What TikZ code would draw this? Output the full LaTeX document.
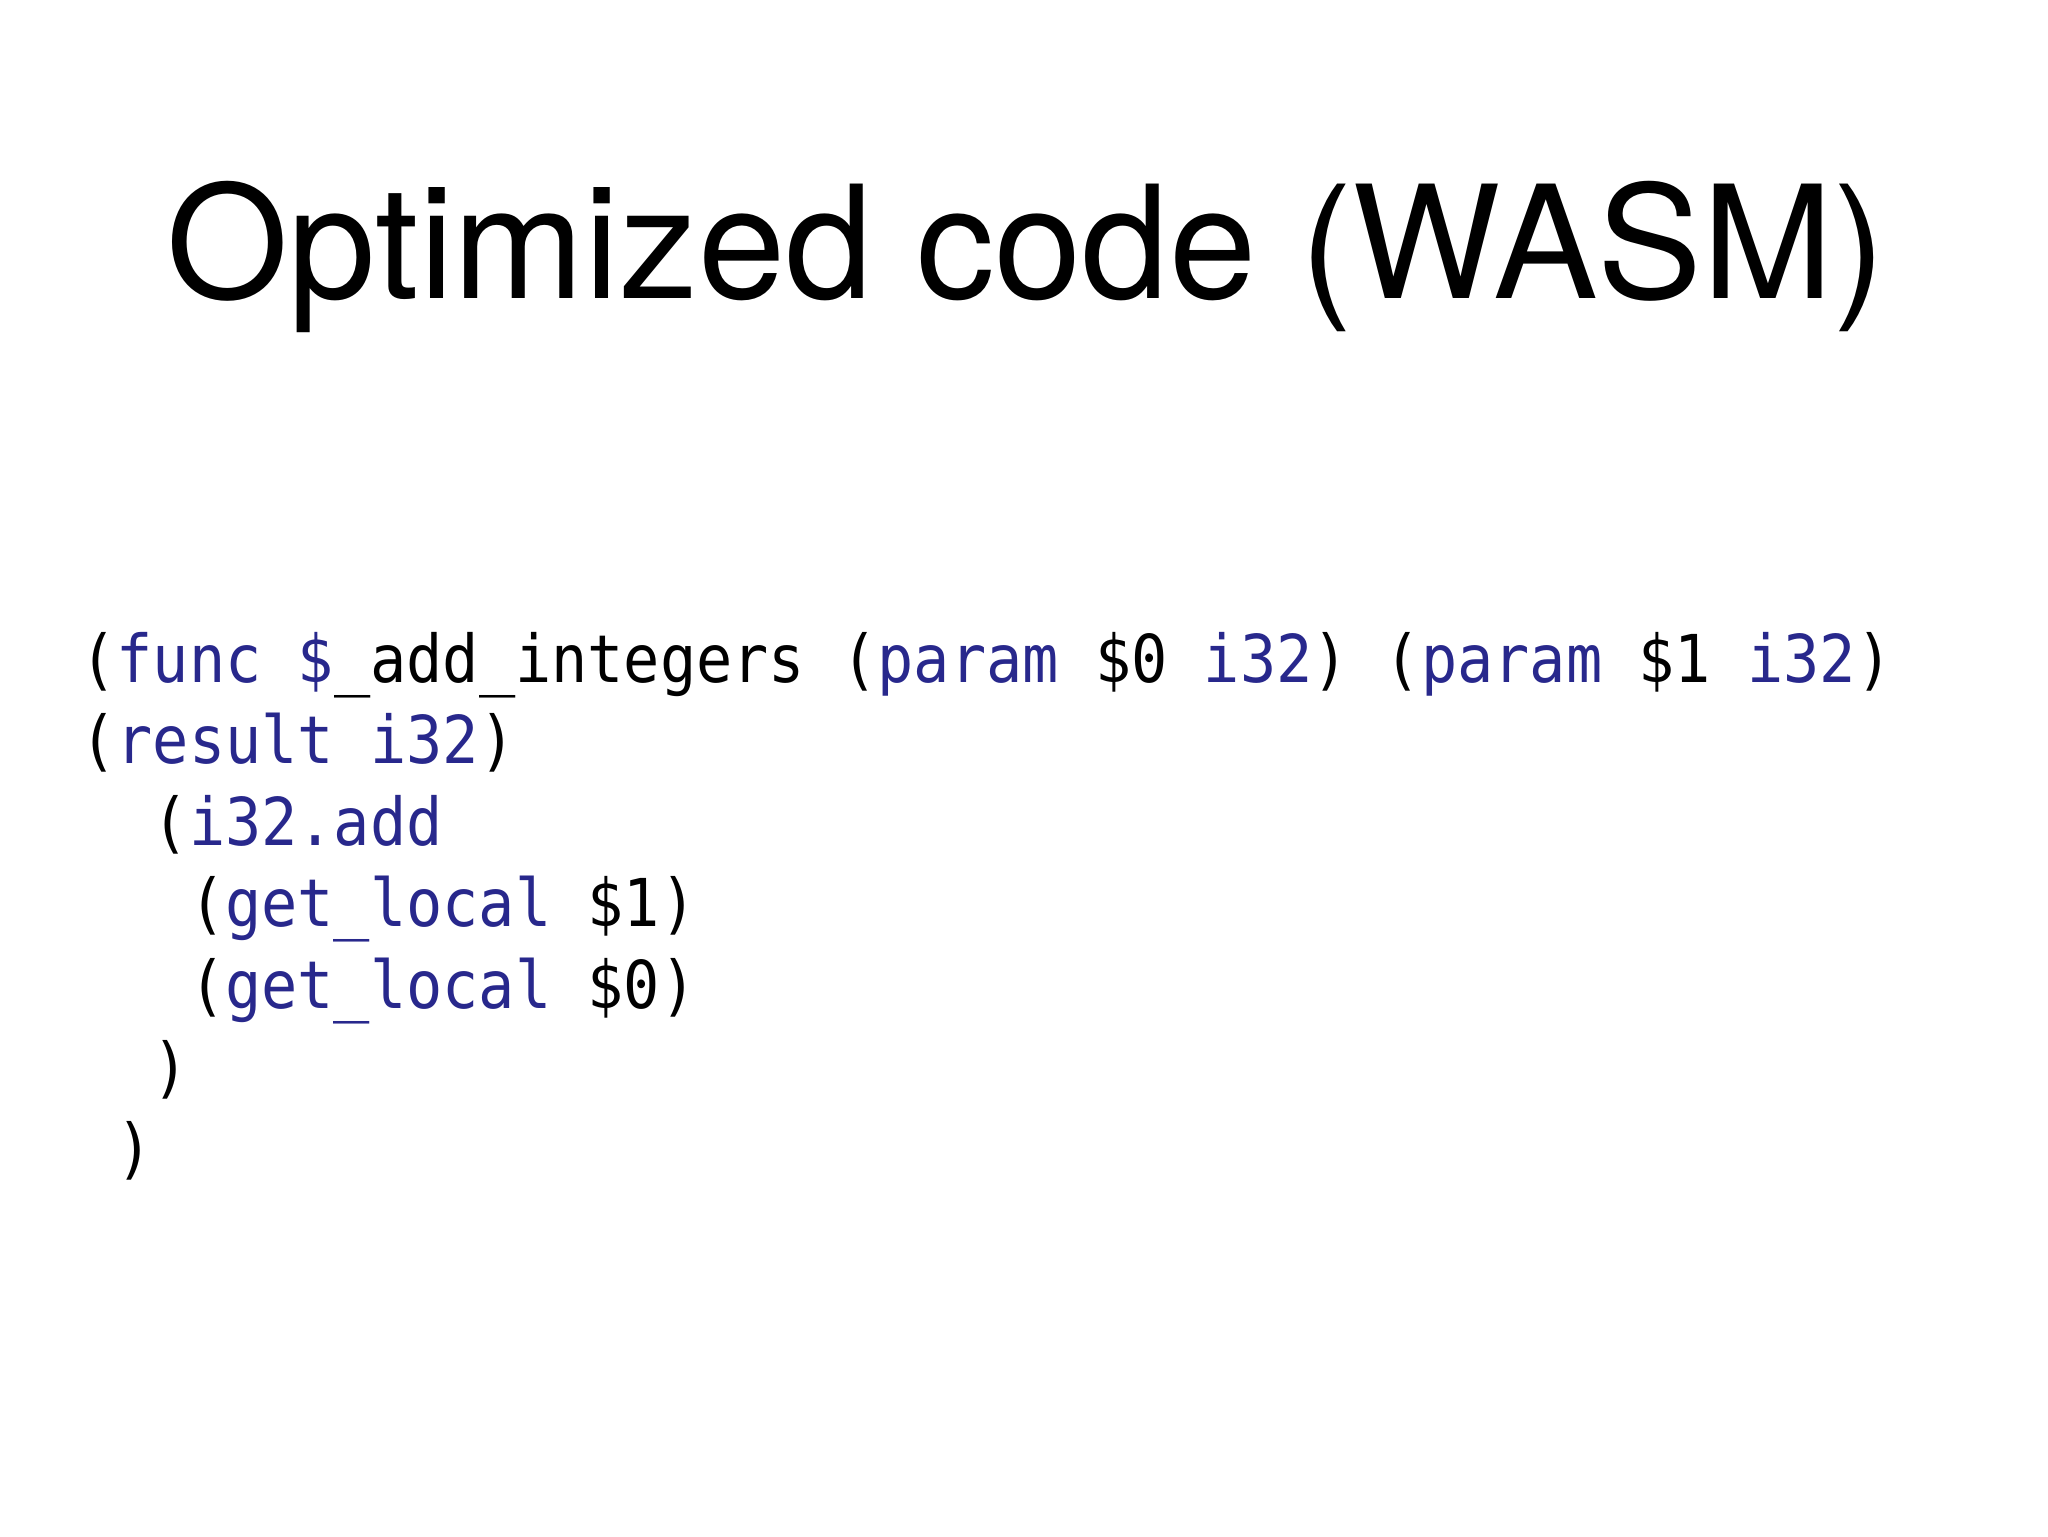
\documentclass[tikz,border=0pt]{standalone}
\usepackage{fontspec}
\setmainfont{TeX Gyre Heros}
\newfontfamily\codefont{DejaVu Sans Mono}[FakeStretch=0.912]
\definecolor{wasmblue}{RGB}{40,40,140}
\newcommand{\kw}[1]{\textcolor{wasmblue}{#1}}
\tikzset{
  codeline/.style = {anchor = base west, inner sep = 0pt, font = \codefont\fontsize{33}{40}\selectfont},
  slidetitle/.style = {anchor = base, inner sep = 0pt, font = \fontsize{78.5}{90}\selectfont}
}

\begin{document}
\begin{tikzpicture}[x = 1pt, y = 1pt]
                \useasboundingbox[fill = white] (0,0) rectangle (1024,-768);
                \node[slidetitle] (title) at (513,-149) {Optimized code (WASM)};
                \node[codeline] (func) at (40,-341) {(\kw{func \$}\_add\_integers (\kw{param} \$0 \kw{i32}) (\kw{param} \$1 \kw{i32})};
                \node[codeline] (result) at (40,-381.8) {(\kw{result i32})};
                \node[codeline] (add) at (76.2,-422.6) {(\kw{i32.add}};
                \node[codeline] (local1) at (94.3,-463.4) {(\kw{get\_local} \$1)};
                \node[codeline] (local0) at (94.3,-504.2) {(\kw{get\_local} \$0)};
                \node[codeline] (closeadd) at (76.2,-545) {)};
                \node[codeline] (closefunc) at (58.1,-585.8) {)};
            \end{tikzpicture}
\end{document}
